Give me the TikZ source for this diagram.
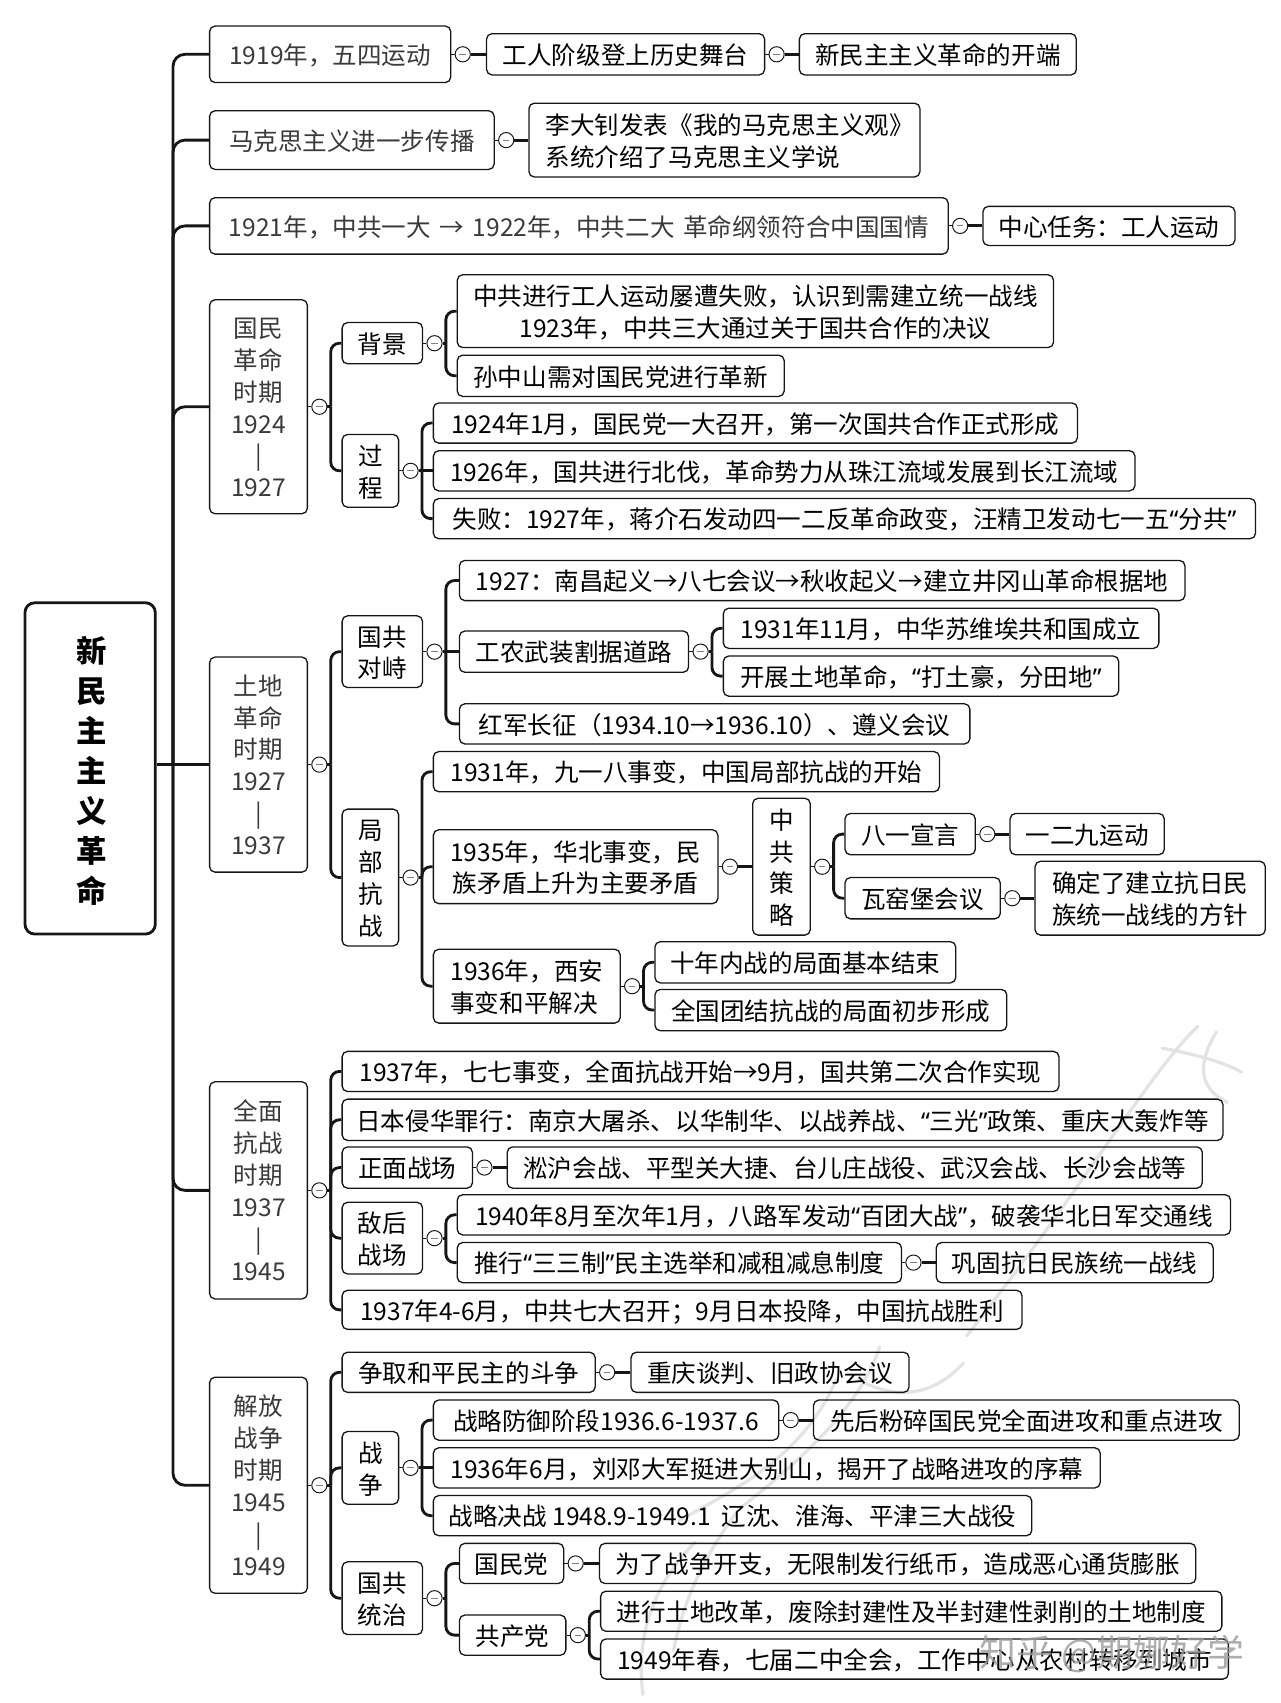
\documentclass[tikz,border=0pt]{standalone}
\usepackage{fontspec}
\setmainfont{Noto Sans CJK SC}
\newfontfamily\narrowq{Noto Sans}
\newcommand{\oq}{{\narrowq “}}
\newcommand{\cq}{{\narrowq ”}}
\usetikzlibrary{positioning}
\definecolor{inkline}{HTML}{161616}
\definecolor{periodtext}{HTML}{3A3A3A}
\tikzset{
	topic/.style={draw=inkline,line width=1.2pt,rounded corners=5pt,inner sep=0pt,align=center,text=black,
		font=\fontsize{22.6}{29.4}\selectfont},
	period/.style={topic,text=periodtext},
	rootbox/.style={draw=inkline,line width=2.6pt,rounded corners=9pt,inner sep=0pt,align=center,
		font=\fontsize{28}{36.7}\selectfont\bfseries},
	toggle/.style={circle,draw=inkline,line width=0.9pt,fill=white,minimum size=14pt,inner sep=0pt,
		path picture={\draw[gray,line width=1pt] (-3pt,0) -- (3pt,0);}},
	link/.style={draw=inkline,line width=2.6pt,rounded corners=8pt},
	stub/.style={draw=inkline,line width=1pt},
	brush/.style={draw=black!11,line width=3pt,line cap=round},
	stamp/.style={text=black!40,opacity=0.8,font=\fontsize{34}{38}\selectfont}
}
\newcommand{\tbox}[7][topic]{
	\pgfmathsetmacro{\cx}{(#3+#5)/2}
	\pgfmathsetmacro{\cy}{(#4+#6)/2}
	\pgfmathsetmacro{\bw}{#5-#3}
	\pgfmathsetmacro{\bh}{#6-#4}
	\node[#1,minimum width=\bw pt,minimum height=\bh pt] (#2) at (\cx,\cy) {\rule{0pt}{24pt}#7\rule[-5pt]{0pt}{0pt}};
}
\begin{document}
\begin{tikzpicture}[x=1pt,y=-1pt]
\useasboundingbox (0,0) rectangle (1179,1568);
% faint brush marks behind the map
\draw[brush] (1103,945) .. controls (1060,985) and (1000,1090) .. (890,1230);
\draw[brush] (1070,965) .. controls (1095,970) and (1120,975) .. (1143,987);
\draw[brush] (1120,950) .. controls (1105,975) and (1100,1000) .. (1130,1015);
\draw[brush] (887,1255) .. controls (860,1285) and (825,1290) .. (790,1270);
\draw[brush] (810,1240) .. controls (790,1300) and (730,1350) .. (680,1390);
\draw[brush] (770,1270) .. controls (740,1340) and (680,1370) .. (625,1400);
\draw[brush] (680,1390) .. controls (650,1430) and (630,1470) .. (620,1520);
\draw[brush] (640,1420) .. controls (600,1460) and (585,1510) .. (592,1560);
% level one, grey text
\tbox[period]{wusi}{193}{24}{415}{76}{1919年，五四运动}
\tbox[period]{makesi}{193}{102}{455}{156}{马克思主义进一步传播}
\tbox[period]{yida}{193}{182}{873}{234}{1921年，中共一大\hspace{3pt} →\hspace{3pt} 1922年，中共二大\hspace{3pt} 革命纲领符合中国国情}
\tbox[period]{guomin}{193}{276}{283}{473}{国民\\革命\\时期\\1924\\|\\1927}
\tbox[period]{tudi}{193}{605}{283}{803}{土地\\革命\\时期\\1927\\|\\1937}
\tbox[period]{quanmian}{193}{996}{283}{1196}{全面\\抗战\\时期\\1937\\|\\1945}
\tbox[period]{jiefang}{193}{1268}{283}{1467}{解放\\战争\\时期\\1945\\|\\1949}
% all the other boxes
\tbox{jieji}{448}{31}{704}{69}{工人阶级登上历史舞台}
\tbox{kaiduan}{736}{31}{991}{69}{新民主主义革命的开端}
\tbox[topic,align=left]{lidazhao}{487}{95}{847}{163}{\hspace*{10pt}李大钊发表《我的马克思主义观》\\\hspace*{10pt}系统介绍了马克思主义学说}
\tbox{renwu}{905}{190}{1137}{226}{中心任务：工人运动}
\tbox{beijing}{315}{297}{389}{335}{背景}
\tbox{guocheng}{315}{400}{367}{467}{过\\程}
\tbox{lvzao}{421}{253}{970}{320}{中共进行工人运动屡遭失败，认识到需建立统一战线\\1923年，中共三大通过关于国共合作的决议}
\tbox{gexin}{421}{327}{722}{365}{孙中山需对国民党进行革新}
\tbox{yida2}{399}{371}{992}{408}{1924年1月，国民党一大召开，第一次国共合作正式形成}
\tbox{beifa}{399}{415}{1045}{452}{1926年，国共进行北伐，革命势力从珠江流域发展到长江流域}
\tbox{shibai}{399}{459}{1156}{496}{失败：1927年，蒋介石发动四一二反革命政变，汪精卫发动七一五\oq{}分共\cq}
\tbox{duizhi}{315}{567}{389}{633}{国共\\对峙}
\tbox{qiyi}{423}{516}{1091}{553}{1927：南昌起义→八七会议→秋收起义→建立井冈山革命根据地}
\tbox{daolu}{423}{581}{634}{619}{工农武装割据道路}
\tbox{suwei}{666}{560}{1067}{597}{1931年11月，中华苏维埃共和国成立}
\tbox{tugai}{666}{604}{1030}{641}{开展土地革命，\oq{}打土豪，分田地\cq}
\tbox{changzheng}{423}{648}{893}{685}{红军长征（1934.10→1936.10）、遵义会议}
\tbox{jubu}{315}{745}{367}{871}{局\\部\\抗\\战}
\tbox{jiuyiba}{399}{692}{865}{729}{1931年，九一八事变，中国局部抗战的开始}
\tbox{huabei}{399}{764}{661}{832}{1935年，华北事变，民\\族矛盾上升为主要矛盾}
\tbox{celue}{693}{735}{746}{861}{中\\共\\策\\略}
\tbox{xuanyan}{778}{749}{898}{787}{八一宣言}
\tbox{yundong}{930}{749}{1072}{787}{一二九运动}
\tbox{wayaobu}{778}{808}{921}{846}{瓦窑堡会议}
\tbox{fangzhen}{953}{793}{1165}{861}{确定了建立抗日民\\族统一战线的方针}
\tbox[topic,align=left]{xian}{399}{874}{571}{942}{1936年，西安\\事变和平解决}
\tbox{neizhan}{603}{867}{880}{905}{十年内战的局面基本结束}
\tbox{tuanjie}{603}{911}{927}{949}{全国团结抗战的局面初步形成}
\tbox{qiqi}{315}{968}{975}{1005}{1937年，七七事变，全面抗战开始→9月，国共第二次合作实现}
\tbox{zuixing}{315}{1012}{1126}{1050}{日本侵华罪行：南京大屠杀、以华制华、以战养战、\oq{}三光\cq{}政策、重庆大轰炸等}
\tbox{zhengmian}{315}{1056}{435}{1094}{正面战场}
\tbox{huizhan}{467}{1056}{1107}{1094}{淞沪会战、平型关大捷、台儿庄战役、武汉会战、长沙会战等}
\tbox{dihou}{315}{1107}{389}{1173}{敌后\\战场}
\tbox{baituan}{421}{1100}{1133}{1137}{1940年8月至次年1月，八路军发动\oq{}百团大战\cq{}，破袭华北日军交通线}
\tbox{sansan}{421}{1144}{830}{1181}{推行\oq{}三三制\cq{}民主选举和减租减息制度}
\tbox{gonggu}{862}{1144}{1117}{1181}{巩固抗日民族统一战线}
\tbox{qida}{315}{1188}{941}{1224}{1937年4-6月，中共七大召开；9月日本投降，中国抗战胜利}
\tbox{douzheng}{315}{1245}{548}{1282}{争取和平民主的斗争}
\tbox{tanpan}{581}{1245}{837}{1282}{重庆谈判、旧政协会议}
\tbox{zhanzheng}{315}{1318}{367}{1385}{战\\争}
\tbox{fangyu}{399}{1289}{717}{1326}{战略防御阶段1936.6-1937.6}
\tbox{fensui}{749}{1289}{1141}{1326}{先后粉碎国民党全面进攻和重点进攻}
\tbox{dabie}{399}{1333}{1013}{1370}{1936年6月，刘邓大军挺进大别山，揭开了战略进攻的序幕}
\tbox{juezhan}{399}{1377}{950}{1414}{战略决战 1948.9-1949.1 \ 辽沈、淮海、平津三大战役}
\tbox{tongzhi}{315}{1438}{389}{1505}{国共\\统治}
\tbox{gmd}{423}{1421}{519}{1458}{国民党}
\tbox{zhibi}{552}{1421}{1101}{1458}{为了战争开支，无限制发行纸币，造成恶心通货膨胀}
\tbox{gcd}{423}{1487}{521}{1524}{共产党}
\tbox{tugai2}{553}{1465}{1125}{1502}{进行土地改革，废除封建性及半封建性剥削的土地制度}
\tbox{chengshi}{553}{1509}{1131}{1546}{1949年春，七届二中全会，工作中心从农村转移到城市}
\node[rootbox,minimum width=120pt,minimum height=305pt] (root) at (83,707.5) {\rule{0pt}{32pt}\hspace*{3pt}新\\\hspace*{3pt}民\\\hspace*{3pt}主\\\hspace*{3pt}主\\\hspace*{3pt}义\\\hspace*{3pt}革\\\hspace*{3pt}命\rule[-6pt]{0pt}{0pt}};
% root has no toggle
\coordinate (sroot) at ([xshift=15pt]root.east |- tudi.west);
\draw[link] (root.east |- tudi.west) -- (tudi.west);
\foreach \kid in {wusi,makesi,yida,guomin,quanmian,jiefang} {
	\draw[link,rounded corners=11pt] (sroot) |- (\kid.west);
}
\foreach \pnt in {wusi,jieji,makesi,yida,guomin,beijing,guocheng,tudi,duizhi,daolu,jubu,huabei,celue,xuanyan,wayaobu,xian,quanmian,zhengmian,dihou,sansan,jiefang,douzheng,zhanzheng,fangyu,tongzhi,gmd,gcd} {
	\node[toggle,right=3pt of \pnt] (t\pnt) {};
	\coordinate (s\pnt) at ([xshift=3pt]t\pnt.east);
	\draw[stub] (\pnt.east) -- (t\pnt.west);
	\draw[link] (t\pnt.east) -- (s\pnt);
}
\foreach \pnt/\kids in {
	guomin/{beijing,guocheng},beijing/{lvzao,gexin},guocheng/{yida2,shibai},
	tudi/{duizhi,jubu},duizhi/{qiyi,changzheng},daolu/{suwei,tugai},
	jubu/{jiuyiba,huabei,xian},celue/{xuanyan,wayaobu},xian/{neizhan,tuanjie},
	quanmian/{qiqi,zuixing,zhengmian,dihou,qida},dihou/{baituan,sansan},
	jiefang/{douzheng,zhanzheng,tongzhi},zhanzheng/{fangyu,juezhan},
	tongzhi/{gmd,gcd},gcd/{tugai2,chengshi}%
} {
	\foreach \kid in \kids {
		\draw[link] (s\pnt) |- (\kid.west);
	}
}
% child level with its toggle
\foreach \pnt/\kid in {wusi/jieji,jieji/kaiduan,makesi/lidazhao,yida/renwu,guocheng/beifa,duizhi/daolu,huabei/celue,xuanyan/yundong,wayaobu/fangzhen,zhengmian/huizhan,sansan/gonggu,douzheng/tanpan,zhanzheng/dabie,fangyu/fensui,gmd/zhibi} {
	\draw[link] (s\pnt) -- (\kid.west);
}
\node[stamp] (mark) at (1024,1523) {知乎 @期娜好学};
\end{tikzpicture}
\end{document}
